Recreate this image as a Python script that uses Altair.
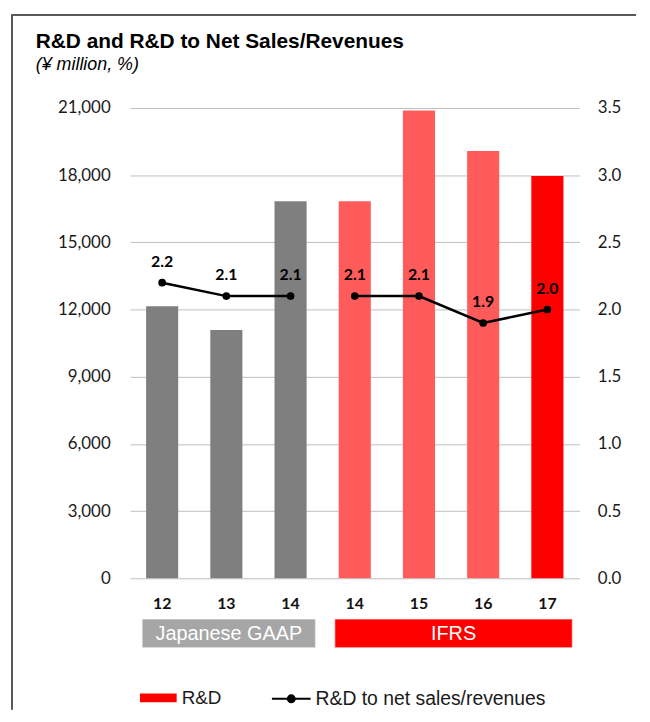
import altair as alt
import pandas as pd

# ---- data ----
fiscal_years = ["12", "13", "14", "14", "15", "16", "17"]
standard_abbr = ["J", "J", "J", "I", "I", "I", "I"]
shade = ["Japanese GAAP", "Japanese GAAP", "Japanese GAAP", "IFRS", "IFRS", "IFRS", "IFRS latest"]
segment = ["Japanese GAAP", "Japanese GAAP", "Japanese GAAP", "IFRS", "IFRS", "IFRS", "IFRS"]
rd_values = [12150, 11090, 16840, 16840, 20890, 19080, 17960]
ratio_values = [2.2, 2.1, 2.1, 2.1, 2.1, 1.9, 2.0]
ratio_series = "R&D to net sales/revenues"

standards = ["Japanese GAAP", "IFRS"]
standard_start = ["12 J", "14 I"]
standard_end = ["14 J", "17 I"]

left_ticks = [0, 3000, 6000, 9000, 12000, 15000, 18000, 21000]
right_ticks = [0.0, 0.5, 1.0, 1.5, 2.0, 2.5, 3.0, 3.5]

keys = [f"{y} {s}" for y, s in zip(fiscal_years, standard_abbr)]
df = pd.DataFrame({"key": keys, "rd": rd_values, "ratio": ratio_values,
                   "shade": shade, "segment": segment,
                   "series": [ratio_series] * len(keys)})
std_df = pd.DataFrame({"standard": standards, "start": standard_start, "end": standard_end})

W, H = 453, 474
ARIAL = "Liberation Sans"
NUM = "Lato"

x_enc = alt.X("key:N", title=None,
              scale=alt.Scale(domain=keys, paddingInner=0.5, paddingOuter=0.25),
              axis=alt.Axis(labelExpr="split(datum.value, ' ')[0]", labelAngle=0,
                            ticks=False, domain=False, labelFont=NUM, labelFontSize=16,
                            labelFontWeight="bold", labelColor="#111111", labelPadding=17))

bars = alt.Chart(df).mark_bar().encode(
    x=x_enc,
    y=alt.Y("rd:Q", title=None, scale=alt.Scale(domain=[0, 21000]),
            axis=alt.Axis(values=left_ticks, format=",.0f", grid=True, gridColor="#BFBFBF",
                          gridWidth=1, domain=False, ticks=False, labelFont=NUM,
                          labelFontSize=17, labelColor="#1a1a1a", labelPadding=20)),
    color=alt.Color("shade:N",
                    scale=alt.Scale(domain=["Japanese GAAP", "IFRS", "IFRS latest"],
                                    range=["#7F7F7F", "#FF5B5B", "#FF0000"]),
                    legend=alt.Legend(values=["IFRS latest"], labelExpr="'R&D'", title=None,
                                      orient="none", legendX=10, legendY=H + 102,
                                      symbolType="M-1,-0.243L1,-0.243L1,0.243L-1,0.243Z",
                                      symbolSize=1369, symbolStrokeWidth=0,
                                      labelFont=ARIAL, labelFontSize=19, labelColor="#1a1a1a",
                                      labelOffset=5, labelLimit=400, padding=0)),
)

y_right = alt.Y("ratio:Q", title=None, scale=alt.Scale(domain=[0, 3.5]),
                axis=alt.Axis(orient="right", values=right_ticks, format=".1f", grid=False,
                              domain=False, ticks=False, labelFont=NUM, labelFontSize=17,
                              labelColor="#1a1a1a", labelPadding=18))

line = alt.Chart(df).mark_line(strokeWidth=2.5).encode(
    x=alt.X("key:N", title=None),
    y=y_right,
    detail="segment:N",
    stroke=alt.Stroke("series:N",
                      scale=alt.Scale(domain=[ratio_series], range=["black"]),
                      legend=alt.Legend(title=None, orient="none", legendX=142,
                                        legendY=H + 101,
                                        symbolType="M-1,0L1,0M-0.18,0A0.18,0.18 0 1,0 0.18,0A0.18,0.18 0 1,0 -0.18,0Z",
                                        symbolSize=1521, symbolStrokeWidth=2,
                                        symbolFillColor="black",
                                        labelFont=ARIAL, labelFontSize=19.5,
                                        labelColor="#1a1a1a", labelOffset=4,
                                        labelLimit=400, padding=0)),
)

points = alt.Chart(df).mark_point(filled=True, size=60, color="black", opacity=1).encode(
    x=alt.X("key:N", title=None),
    y=alt.Y("ratio:Q", title=None),
)

labels = alt.Chart(df).mark_text(dy=-21, font=NUM, fontSize=16, fontWeight="bold",
                                 color="black").encode(
    x=alt.X("key:N", title=None),
    y=alt.Y("ratio:Q", title=None),
    text=alt.Text("ratio:Q", format=".1f"),
)

ratio_layer = alt.layer(line, points, labels)

boxes = alt.Chart(std_df).mark_rect(xOffset=-4, x2Offset=9, stroke="white",
                                    strokeOpacity=0.45, strokeWidth=1.5).encode(
    x=alt.X("start:N", title=None, bandPosition=0),
    x2=alt.X2("end:N", bandPosition=1),
    y=alt.value(H + 41),
    y2=alt.value(H + 70),
    fill=alt.Fill("standard:N", scale=alt.Scale(domain=standards, range=["#A6A6A6", "#FF0000"]),
                  legend=None),
)

box_texts = []
for s, st, en in zip(standards, standard_start, standard_end):
    box_texts.append(
        alt.Chart(pd.DataFrame({"standard": [s]})).mark_text(
            font=ARIAL, fontSize=20, color="white", baseline="middle", align="center"
        ).encode(
            x=alt.value({"expr": f"(scale('x', '{st}') + scale('x', '{en}') + bandwidth('x')) / 2 + 2.5"}),
            y=alt.value(H + 56),
            text="standard:N",
        )
    )

frame_top = alt.Chart(df).mark_rule(color="#595959", strokeWidth=1.5).encode(
    x=alt.value(-119), x2=alt.value(W + 57), y=alt.value(-94))
frame_left = alt.Chart(df).mark_rule(color="#595959", strokeWidth=1.5).encode(
    x=alt.value(-119), y=alt.value(-94), y2=alt.value(H + 132))

chart = alt.layer(
    frame_top, frame_left, bars, ratio_layer, boxes, *box_texts
).resolve_scale(
    y="independent"
).properties(
    width=W, height=H,
    padding={"left": 3, "top": 3, "right": 5, "bottom": 0},
    title=alt.TitleParams(
        text="R&D and R&D to Net Sales/Revenues",
        subtitle="(¥ million, %)",
        anchor="start", frame="group", dx=-95,
        font=ARIAL, fontSize=21, fontWeight="bold", color="black",
        subtitleFont=ARIAL, subtitleFontSize=18, subtitleFontStyle="italic",
        subtitleColor="black", subtitlePadding=4, offset=-60,
    ),
).configure_view(stroke=None).configure_axis(labelFont=NUM)

chart.save("out.html", embed_options={"renderer": "svg", "actions": False})
